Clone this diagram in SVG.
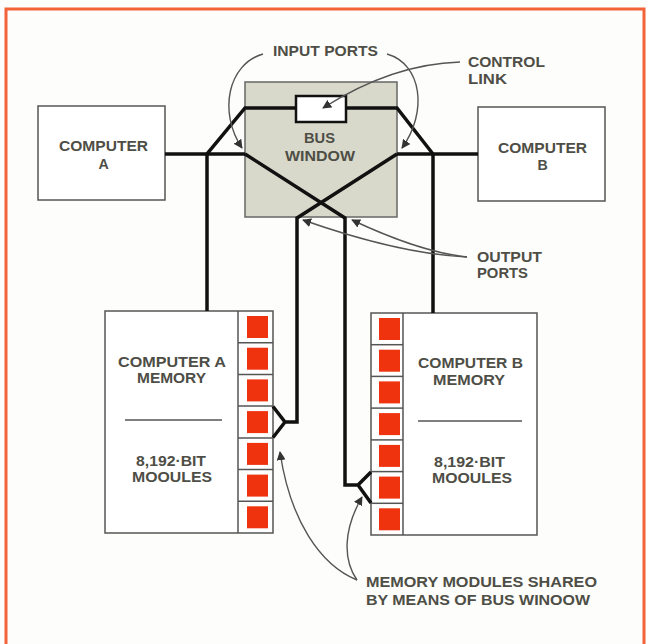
<svg xmlns="http://www.w3.org/2000/svg" width="647" height="644" viewBox="0 0 647 644">
<style>
.t{font-family:"Liberation Sans",Arial,sans-serif;font-size:14.2px;font-weight:bold;fill:#4e4e46;}
.box{fill:#fff;stroke:#555;stroke-width:1.5;}
.bus{fill:#d9d9cb;stroke:#666;stroke-width:1.5;}
.w{fill:none;stroke:#111;stroke-width:3.5;stroke-linejoin:miter;}
.sep{stroke:#555;stroke-width:1.5;}
.red{fill:#f0330f;}
.cell{fill:none;stroke:#555;stroke-width:1.5;}
.ar{fill:none;stroke:#555;stroke-width:1.4;marker-end:url(#ah);}
</style>
<defs>
<marker id="ah" viewBox="0 0 10 10" refX="9" refY="5" markerWidth="9" markerHeight="9" markerUnits="userSpaceOnUse" orient="auto">
<path d="M0,0 L10,5 L0,10 Z" fill="#333"/>
</marker>
</defs>
<rect x="0" y="0" width="647" height="644" fill="#fdfdfb"/>
<rect x="6" y="9" width="638" height="660" fill="none" stroke="#f4623a" stroke-width="3"/>

<g id="computer-a">
<rect class="box" x="38" y="106" width="127" height="94"/>
<text class="t" x="59" y="151" textLength="89" lengthAdjust="spacingAndGlyphs">COMPUTER</text>
<text class="t" x="103.5" y="169" text-anchor="middle">A</text>
</g>

<g id="computer-b">
<rect class="box" x="478" y="107" width="127" height="94"/>
<text class="t" x="498" y="153" textLength="89" lengthAdjust="spacingAndGlyphs">COMPUTER</text>
<text class="t" x="542.5" y="170" text-anchor="middle">B</text>
</g>

<g id="bus-window">
<rect class="bus" x="245" y="82" width="152" height="135"/>
<text class="t" x="304" y="143" textLength="31" lengthAdjust="spacingAndGlyphs">BUS</text>
<text class="t" x="285" y="161" textLength="70" lengthAdjust="spacingAndGlyphs">WINDOW</text>
</g>

<g id="memory-a">
<rect class="box" x="105" y="311" width="168" height="222"/>
<line class="sep" x1="238" y1="311" x2="238" y2="533"/>
<g class="cell">
<line x1="238" y1="342.7" x2="273" y2="342.7"/>
<line x1="238" y1="374.4" x2="273" y2="374.4"/>
<line x1="238" y1="406.1" x2="273" y2="406.1"/>
<line x1="238" y1="437.9" x2="273" y2="437.9"/>
<line x1="238" y1="469.6" x2="273" y2="469.6"/>
<line x1="238" y1="501.3" x2="273" y2="501.3"/>
</g>
<rect class="red" x="247" y="316" width="21" height="22"/>
<rect class="red" x="247" y="347.7" width="21" height="22"/>
<rect class="red" x="247" y="379.4" width="21" height="22"/>
<rect class="red" x="247" y="411.1" width="21" height="22"/>
<rect class="red" x="247" y="442.9" width="21" height="22"/>
<rect class="red" x="247" y="474.6" width="21" height="22"/>
<rect class="red" x="247" y="506.3" width="21" height="22"/>
<text class="t" x="118" y="367" textLength="108" lengthAdjust="spacingAndGlyphs">COMPUTER A</text>
<text class="t" x="137" y="383" textLength="69" lengthAdjust="spacingAndGlyphs">MEMORY</text>
<line class="sep" x1="125" y1="420" x2="222" y2="420"/>
<text class="t" x="136" y="466" textLength="70" lengthAdjust="spacingAndGlyphs">8,192·BIT</text>
<text class="t" x="132" y="482" textLength="80" lengthAdjust="spacingAndGlyphs">MOOULES</text>
</g>

<g id="memory-b">
<rect class="box" x="371" y="313" width="166" height="222"/>
<line class="sep" x1="403" y1="313" x2="403" y2="535"/>
<g class="cell">
<line x1="371" y1="344.7" x2="403" y2="344.7"/>
<line x1="371" y1="376.4" x2="403" y2="376.4"/>
<line x1="371" y1="408.1" x2="403" y2="408.1"/>
<line x1="371" y1="439.9" x2="403" y2="439.9"/>
<line x1="371" y1="471.6" x2="403" y2="471.6"/>
<line x1="371" y1="503.3" x2="403" y2="503.3"/>
</g>
<rect class="red" x="379" y="318" width="21" height="22"/>
<rect class="red" x="379" y="349.7" width="21" height="22"/>
<rect class="red" x="379" y="381.4" width="21" height="22"/>
<rect class="red" x="379" y="413.1" width="21" height="22"/>
<rect class="red" x="379" y="444.9" width="21" height="22"/>
<rect class="red" x="379" y="476.6" width="21" height="22"/>
<rect class="red" x="379" y="508.3" width="21" height="22"/>
<text class="t" x="418" y="368" textLength="105" lengthAdjust="spacingAndGlyphs">COMPUTER B</text>
<text class="t" x="433" y="385" textLength="72" lengthAdjust="spacingAndGlyphs">MEMORY</text>
<line class="sep" x1="418" y1="421" x2="522" y2="421"/>
<text class="t" x="434" y="467" textLength="71" lengthAdjust="spacingAndGlyphs">8,192·BIT</text>
<text class="t" x="432" y="483" textLength="80" lengthAdjust="spacingAndGlyphs">MOOULES</text>
</g>

<g id="connectors">
<path class="w" d="M165,154 H245"/>
<path class="w" d="M207,311 V154 L245,108 H296"/>
<path class="w" d="M346,108 H397 L433,154 V313"/>
<path class="w" d="M397,154 H478"/>
<path class="w" d="M245,154 L345,218 V485 H358 L371,472 M358,485 L371,503"/>
<path class="w" d="M397,154 L297,218 V422 H285 L273,406.5 M285,422 L273,437.5"/>
</g>

<g id="control-link">
<rect x="296" y="96" width="50" height="26" fill="#fff" stroke="#111" stroke-width="2.5"/>
</g>

<g id="labels">
<text class="t" x="273" y="56" textLength="105" lengthAdjust="spacingAndGlyphs">INPUT PORTS</text>
<path class="ar" d="M263,54 C228,64 218,112 242,148"/>
<path class="ar" d="M387,54 C422,64 428,112 402,148"/>
<text class="t" x="468" y="67" textLength="77" lengthAdjust="spacingAndGlyphs">CONTROL</text>
<text class="t" x="468" y="84" textLength="39" lengthAdjust="spacingAndGlyphs">LINK</text>
<path class="ar" d="M460,62 Q392,64 323,108"/>
<text class="t" x="477" y="262" textLength="65" lengthAdjust="spacingAndGlyphs">OUTPUT</text>
<text class="t" x="477" y="278" textLength="51" lengthAdjust="spacingAndGlyphs">PORTS</text>
<path class="ar" d="M467,257 Q400,254 303,220"/>
<path class="ar" d="M467,257 Q420,252 352,220"/>
<text class="t" x="366" y="587" textLength="231" lengthAdjust="spacingAndGlyphs">MEMORY MODULES SHAREO</text>
<text class="t" x="366" y="605" textLength="224" lengthAdjust="spacingAndGlyphs">BY MEANS OF BUS WINOOW</text>
<path class="ar" d="M357,580 C320,565 290,520 280,452"/>
<path class="ar" d="M357,580 C343,560 343,530 362,497"/>
</g>
</svg>
